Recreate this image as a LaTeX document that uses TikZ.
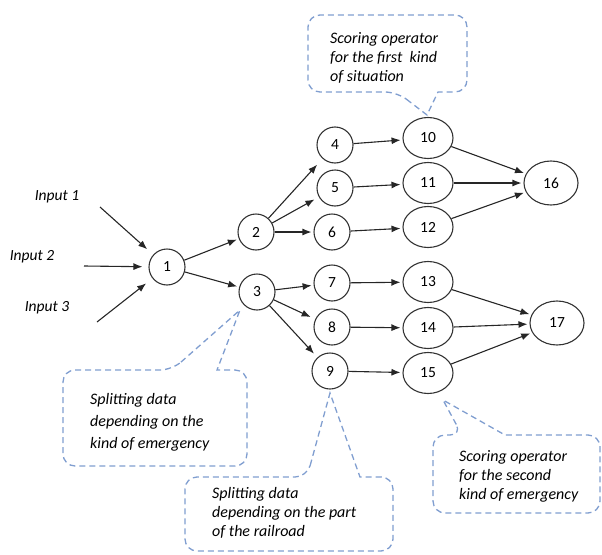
\documentclass[tikz,border=0pt]{standalone}
\usepackage{fontspec}
\setmainfont{Carlito}
\usepackage{xcolor}
\usetikzlibrary{shapes.geometric,arrows.meta}
\definecolor{notecol}{RGB}{128,158,208}

\begin{document}
\begin{tikzpicture}[x=1pt,y=-1pt,
		num/.style={circle,draw=black!80,line width=1.1pt,minimum size=36pt,inner sep=0pt,font=\fontsize{15.5}{18}\selectfont},
		oval/.style={ellipse,draw=black!80,line width=1.1pt,minimum width=50pt,minimum height=41pt,inner sep=0pt,font=\fontsize{15.5}{18}\selectfont},
		bigoval/.style={oval,minimum width=54pt,minimum height=44pt},
		link/.style={-{Latex[length=9pt,width=7pt]},line width=1.1pt,draw=black!85,shorten >=2pt},
		inlabel/.style={inner sep=0pt,font=\itshape\fontsize{15.5}{18}\selectfont},
		note/.style={draw=notecol,line width=1.3pt,dash pattern=on 6pt off 4pt},
		notetext/.style={align=left,anchor=west,inner sep=0pt,font=\itshape\fontsize{16}{19}\selectfont}]
		\useasboundingbox (0,0) rectangle (602,554);

		\node[num] (n1) at (167,267) {1};
		\node[num] (n2) at (256,232) {2};
		\node[num] (n3) at (257,292) {3};
		\node[num] (n4) at (335,145) {4};
		\node[num] (n5) at (335,188) {5};
		\node[num] (n6) at (332,232) {6};
		\node[num] (n7) at (332,283) {7};
		\node[num] (n8) at (332,327) {8};
		\node[num] (n9) at (330,371) {9};
		\node[oval] (n10) at (428,138) {10};
		\node[oval] (n11) at (428,183) {11};
		\node[oval] (n12) at (428,227) {12};
		\node[oval] (n13) at (428,282) {13};
		\node[oval] (n14) at (428,328) {14};
		\node[oval] (n15) at (428,373) {15};
		\node[bigoval] (n16) at (551,183) {16};
		\node[bigoval] (n17) at (557,323) {17};

		\node[inlabel] (in1) at (57,197) {Input 1};
		\node[inlabel] (in2) at (32,257) {Input 2};
		\node[inlabel] (in3) at (47,308) {Input 3};
		\coordinate (s1) at (100,207);
		\coordinate (s2) at (84,266);
		\coordinate (s3) at (97,322);

		\draw[link,shorten >=8pt] (s1) -- (n1);
		\draw[link,shorten >=6pt] (s2) -- (n1);
		\draw[link,shorten >=8pt] (s3) -- (n1);
		\draw[link] (n1) -- (n2);
		\draw[link] (n1) -- (n3);
		\draw[link,shorten >=8pt] (n2) -- (n4);
		\draw[link,shorten >=5pt] (n2) -- (n5);
		\draw[link] (n2) -- (n6);
		\draw[link] (n3) -- (n7);
		\draw[link,shorten >=5pt] (n3) -- (n8);
		\draw[link,shorten >=5pt] (n3) -- (n9);
		\draw[link] (n4) -- (n10);
		\draw[link] (n5) -- (n11);
		\draw[link] (n6) -- (n12);
		\draw[link] (n7) -- (n13);
		\draw[link] (n8) -- (n14);
		\draw[link] (n9) -- (n15);
		\draw[link] (n10) -- (n16);
		\draw[link] (n11) -- (n16);
		\draw[link] (n12) -- (n16);
		\draw[link] (n13) -- (n17);
		\draw[link] (n14) -- (n17);
		\draw[link] (n15) -- (n17);

		\draw[note] (397,92) -- (427,115) -- (438,92) [rounded corners=12pt] -- (467,92) -- (467,15) -- (308,15) -- (308,92) -- cycle;
		\node[notetext] (noteA) at (330,58) {Scoring operator\\for the first\ \ kind\\of situation};

		\draw[note] (172,370) -- (240,310) -- (217,370) [rounded corners=12pt] -- (247,370) -- (247,466) -- (63,466) -- (63,370) -- cycle;
		\node[notetext,font=\itshape\fontsize{16}{22}\selectfont] (noteB) at (90,422) {Splitting data\\depending on the\\kind of emergency};

		\draw[note] (307,477) -- (330,393) -- (360,477) [rounded corners=12pt] -- (393,477) -- (393,551) -- (185,551) -- (185,477) -- cycle;
		\node[notetext] (noteC) at (212,513) {Splitting data\\depending on the part\\of the railroad};

		\draw[note] (462,435) -- (443,400) -- (505,435) [rounded corners=12pt] -- (600,435) -- (600,513) -- (433,513) -- (433,435) -- cycle;
		\node[notetext] (noteD) at (459,476) {Scoring operator\\for the second\\kind of emergency};
	\end{tikzpicture}
\end{document}
